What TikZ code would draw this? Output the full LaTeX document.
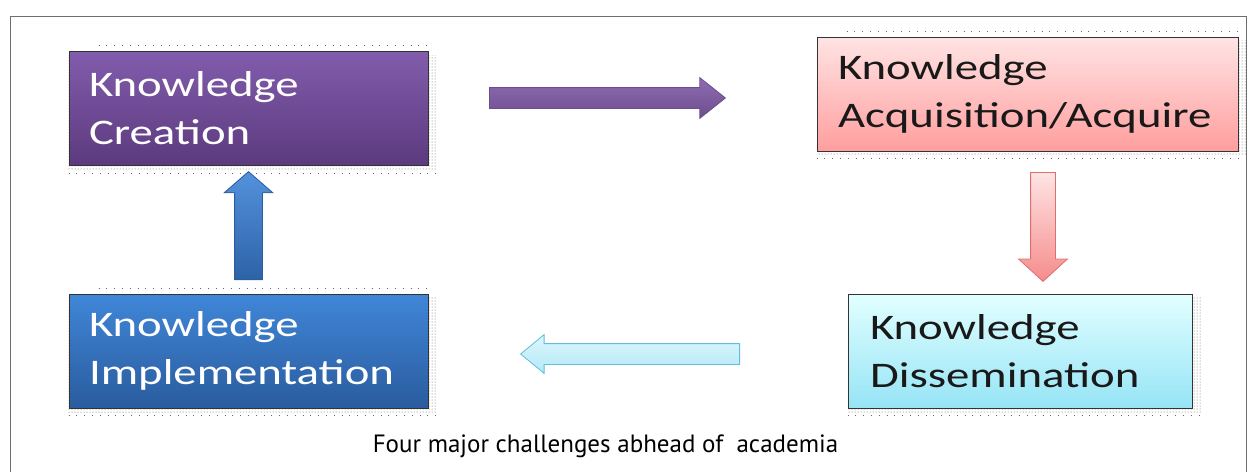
\documentclass[tikz,border=0pt]{standalone}
\usepackage{fontspec}
\usetikzlibrary{shapes.arrows,patterns,backgrounds}
\newfontfamily\boxfont[FakeStretch=1.3]{Carlito}
\newfontfamily\captionfont{PT Sans}
\definecolor{createtop}{RGB}{130,92,172}
\definecolor{createbot}{RGB}{92,58,126}
\definecolor{acqtop}{RGB}{255,228,228}
\definecolor{acqbot}{RGB}{255,158,158}
\definecolor{distop}{RGB}{226,255,255}
\definecolor{disbot}{RGB}{150,228,246}
\definecolor{imptop}{RGB}{64,134,216}
\definecolor{impbot}{RGB}{42,92,158}
\definecolor{framegrey}{RGB}{110,110,110}
\tikzset{
  kbox/.style={rectangle, draw=black!80, line width=0.9pt, align=left,
    minimum height=114pt, inner ysep=0pt,
    font=\boxfont\fontsize{36}{48}\selectfont},
  karrow/.style={single arrow, anchor=tail, inner xsep=0pt,
    single arrow head indent=0pt, line width=0.8pt},
  boxshadow/.style={pattern=dots, pattern color=black!60},
  shadowdots/.style={black!60, line width=0.8pt, dash pattern=on 0.8pt off 7pt},
}

\begin{document}
\begin{tikzpicture}[x=1pt,y=-1pt]
  \useasboundingbox (0,0) rectangle (1256,472);
  % frame
  \draw[framegrey, line width=1pt] (10,472) -- (10,16) -- (1246,16) -- (1246,472);
  % the four boxes
  \node[kbox, top color=createtop, bottom color=createbot, text=white,
    text width=319pt, inner xsep=20pt] (create) at (248.5,108.5) {Knowledge\\Creation};
  \node[kbox, top color=acqtop, bottom color=acqbot, text=black!90,
    text width=379pt, inner xsep=21pt] (acquire) at (1027.5,94) {Knowledge\\Acquisition/Acquire};
  \node[kbox, top color=distop, bottom color=disbot, text=black!90,
    text width=300pt, inner xsep=22pt] (dissem) at (1020,351) {Knowledge\\Dissemination};
  \node[kbox, top color=imptop, bottom color=impbot, text=white,
    text width=319pt, inner xsep=20pt] (implem) at (248.5,351) {Knowledge\\Implementation};
  % shadows behind the boxes
  \begin{scope}[on background layer]
    \foreach \b in {create,acquire,dissem,implem}{
      \fill[boxshadow] ([yshift=-4pt]\b.south west) rectangle ([xshift=9pt,yshift=-4pt]\b.north east);
      \draw[shadowdots] ([yshift=-7pt]\b.south west) -- ([yshift=-7pt,xshift=9pt]\b.south east);
    }
    \draw[shadowdots] ([xshift=30pt,yshift=6pt]create.north west) -- ([yshift=6pt]create.north east);
    \draw[shadowdots] ([xshift=30pt,yshift=5pt]acquire.north west) -- ([yshift=5pt]acquire.north east);
    \draw[shadowdots] ([xshift=30pt,yshift=5pt]implem.north west) -- ([yshift=5pt]implem.north east);
  \end{scope}
  % arrows round the cycle (placed by their tails)
  \node[karrow, draw=createbot!90, top color=createtop!90, bottom color=createbot!90,
    minimum height=236pt, inner ysep=10pt, single arrow head extend=10pt,
    single arrow tip angle=77] (creToAcq) at (489,98) {};
  \node[karrow, draw={rgb,255:red,225;green,110;blue,110},
    top color=acqtop, bottom color={rgb,255:red,245;green,140;blue,140},
    minimum height=109pt, inner ysep=12pt, single arrow head extend=12pt,
    single arrow tip angle=95, rotate=-90] (acqToDis) at (1043,172) {};
  \node[karrow, draw={rgb,255:red,95;green,190;blue,220},
    top color={rgb,255:red,220;green,247;blue,253}, bottom color={rgb,255:red,180;green,232;blue,246},
    minimum height=219pt, inner ysep=10pt, single arrow head extend=9pt,
    single arrow tip angle=79, rotate=180] (disToImp) at (740,354) {};
  \node[karrow, draw=impbot, top color=imptop!90!white, bottom color=impbot!85!imptop,
    minimum height=108pt, inner ysep=13.5pt, single arrow head extend=10.5pt,
    single arrow tip angle=98, rotate=90] (impToCre) at (248.5,280) {};
  % caption
  \node[font=\captionfont\fontsize{25}{30}\selectfont, anchor=base] (caption)
    at (605.5,452) {Four major challenges abhead of\ \ academia};
\end{tikzpicture}
\end{document}
